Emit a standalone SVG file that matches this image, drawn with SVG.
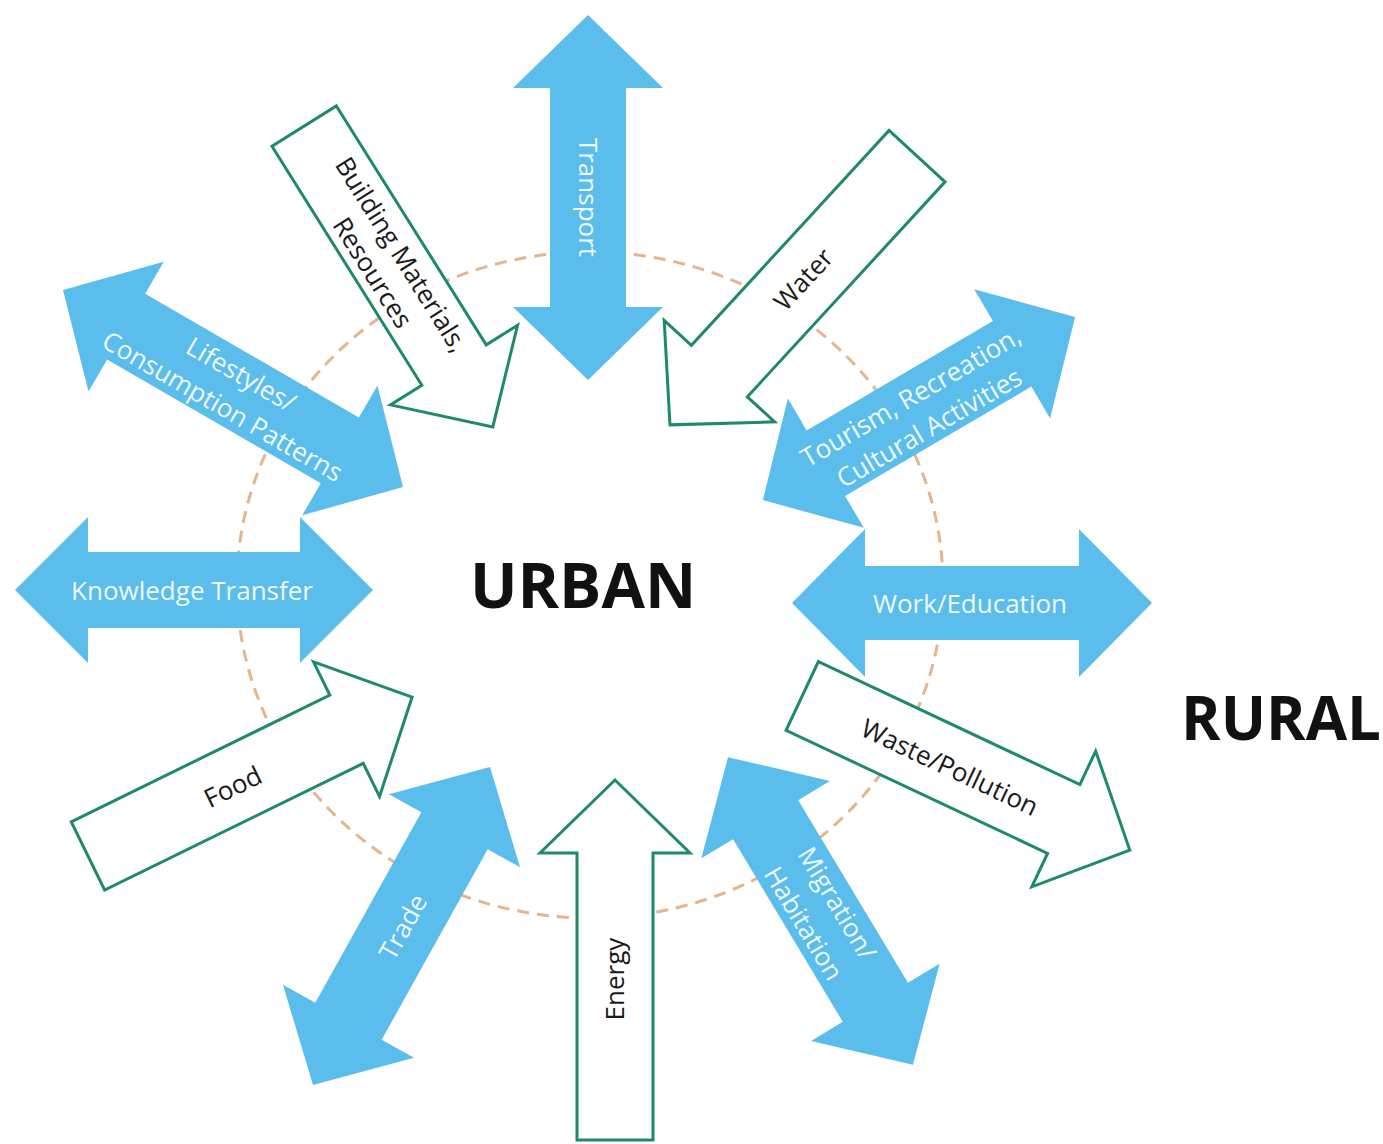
<svg xmlns="http://www.w3.org/2000/svg" width="1383" height="1144" viewBox="0 0 1383 1144">
<style>
.bg{fill:#ffffff}
.ring{fill:none;stroke:#e5b58e;stroke-width:3;stroke-dasharray:12 8}
.blue{fill:#5bbdeb;stroke:none}
.outline{fill:#ffffff;stroke:#1f8a6b;stroke-width:3;stroke-linejoin:miter}
.lw{font-family:"Open Sans","Liberation Sans",sans-serif;font-size:26px;fill:#eef8fd;text-anchor:middle}
.lb{font-family:"Open Sans","Liberation Sans",sans-serif;font-size:26px;fill:#1a1a1a;text-anchor:middle}
.big{font-family:"Open Sans","Liberation Sans",sans-serif;font-size:60px;font-weight:bold;fill:#111111;text-anchor:middle}
</style>
<rect class="bg" x="0" y="0" width="1383" height="1144"/>
<g id="connectors">
<ellipse class="ring" cx="590" cy="585" rx="353" ry="333"/>
</g>
<g id="transport" transform="translate(588,197.5) rotate(90)">
<polygon class="blue" points="-182.5,0 -109.5,-75 -109.5,-38 109.5,-38 109.5,-75 182.5,0 109.5,75 109.5,38 -109.5,38 -109.5,75"/>
<text class="lw" x="0" y="9">Transport</text>
</g>
<g id="knowledge" transform="translate(194,590)">
<polygon class="blue" points="-179,0 -106,-73 -106,-38 106,-38 106,-73 179,0 106,73 106,38 -106,38 -106,73"/>
<text class="lw" x="-2" y="10">Knowledge Transfer</text>
</g>
<g id="work" transform="translate(972,603)">
<polygon class="blue" points="-180,0 -107,-74 -107,-37 107,-37 107,-74 180,0 107,74 107,37 -107,37 -107,74"/>
<text class="lw" x="-2" y="10">Work/Education</text>
</g>
<g id="lifestyles" transform="translate(233,388.5) rotate(30.1)">
<polygon class="blue" points="-196.5,0 -123.5,-75 -123.5,-38 123.5,-38 123.5,-75 196.5,0 123.5,75 123.5,38 -123.5,38 -123.5,75"/>
<text class="lw" x="0" y="-7">Lifestyles/</text>
<text class="lw" x="0" y="30">Consumption Patterns</text>
</g>
<g id="tourism" transform="translate(919,408.5) rotate(-30.4)">
<polygon class="blue" points="-181,0 -108,-75 -108,-38 108,-38 108,-75 181,0 108,75 108,38 -108,38 -108,75"/>
<text class="lw" x="-1" y="-5">Tourism, Recreation,</text>
<text class="lw" x="-1" y="31">Cultural Activities</text>
</g>
<g id="trade" transform="translate(401.5,926) rotate(-60.9)">
<polygon class="blue" points="-182,0 -109,-75 -109,-38 109,-38 109,-75 182,0 109,75 109,38 -109,38 -109,75"/>
<text class="lw" x="0" y="11">Trade</text>
</g>
<g id="migration" transform="translate(820.5,911) rotate(59)">
<polygon class="blue" points="-179.5,0 -106.5,-75 -106.5,-38 106.5,-38 106.5,-75 179.5,0 106.5,75 106.5,38 -106.5,38 -106.5,75"/>
<text class="lw" x="2" y="-9">Migration/</text>
<text class="lw" x="2" y="30">Habitation</text>
</g>
<g id="building" transform="translate(398.5,276.5) rotate(57.9)">
<polygon class="outline" points="-177.5,-38 104.5,-38 104.5,-75 177.5,0 104.5,75 104.5,38 -177.5,38"/>
<text class="lb" x="-17" y="-5">Building Materials,</text>
<text class="lb" x="-17" y="29">Resources</text>
</g>
<g id="water" transform="translate(793.5,290.5) rotate(132.6)">
<polygon class="outline" points="-182.5,-38 109.5,-38 109.5,-75 182.5,0 109.5,75 109.5,38 -182.5,38"/>
<text class="lb" x="15" y="9" transform="rotate(180)">Water</text>
</g>
<g id="food" transform="translate(250,776.5) rotate(-26.1)">
<polygon class="outline" points="-180.5,-38 107.5,-38 107.5,-75 180.5,0 107.5,75 107.5,38 -180.5,38"/>
<text class="lb" x="-20" y="11">Food</text>
</g>
<g id="energy" transform="translate(615,960) rotate(-90)">
<polygon class="outline" points="-180,-38 107,-38 107,-75 180,0 107,75 107,38 -180,38"/>
<text class="lb" x="-19" y="9">Energy</text>
</g>
<g id="waste" transform="translate(966,773) rotate(25.2)">
<polygon class="outline" points="-181,-38 108,-38 108,-75 181,0 108,75 108,38 -181,38"/>
<text class="lb" x="-17" y="11">Waste/Pollution</text>
</g>
<g id="urban">
<text class="big" x="583" y="608" style="font-size:63px">URBAN</text>
</g>
<g id="rural">
<text class="big" x="1281" y="740">RURAL</text>
</g>
</svg>
